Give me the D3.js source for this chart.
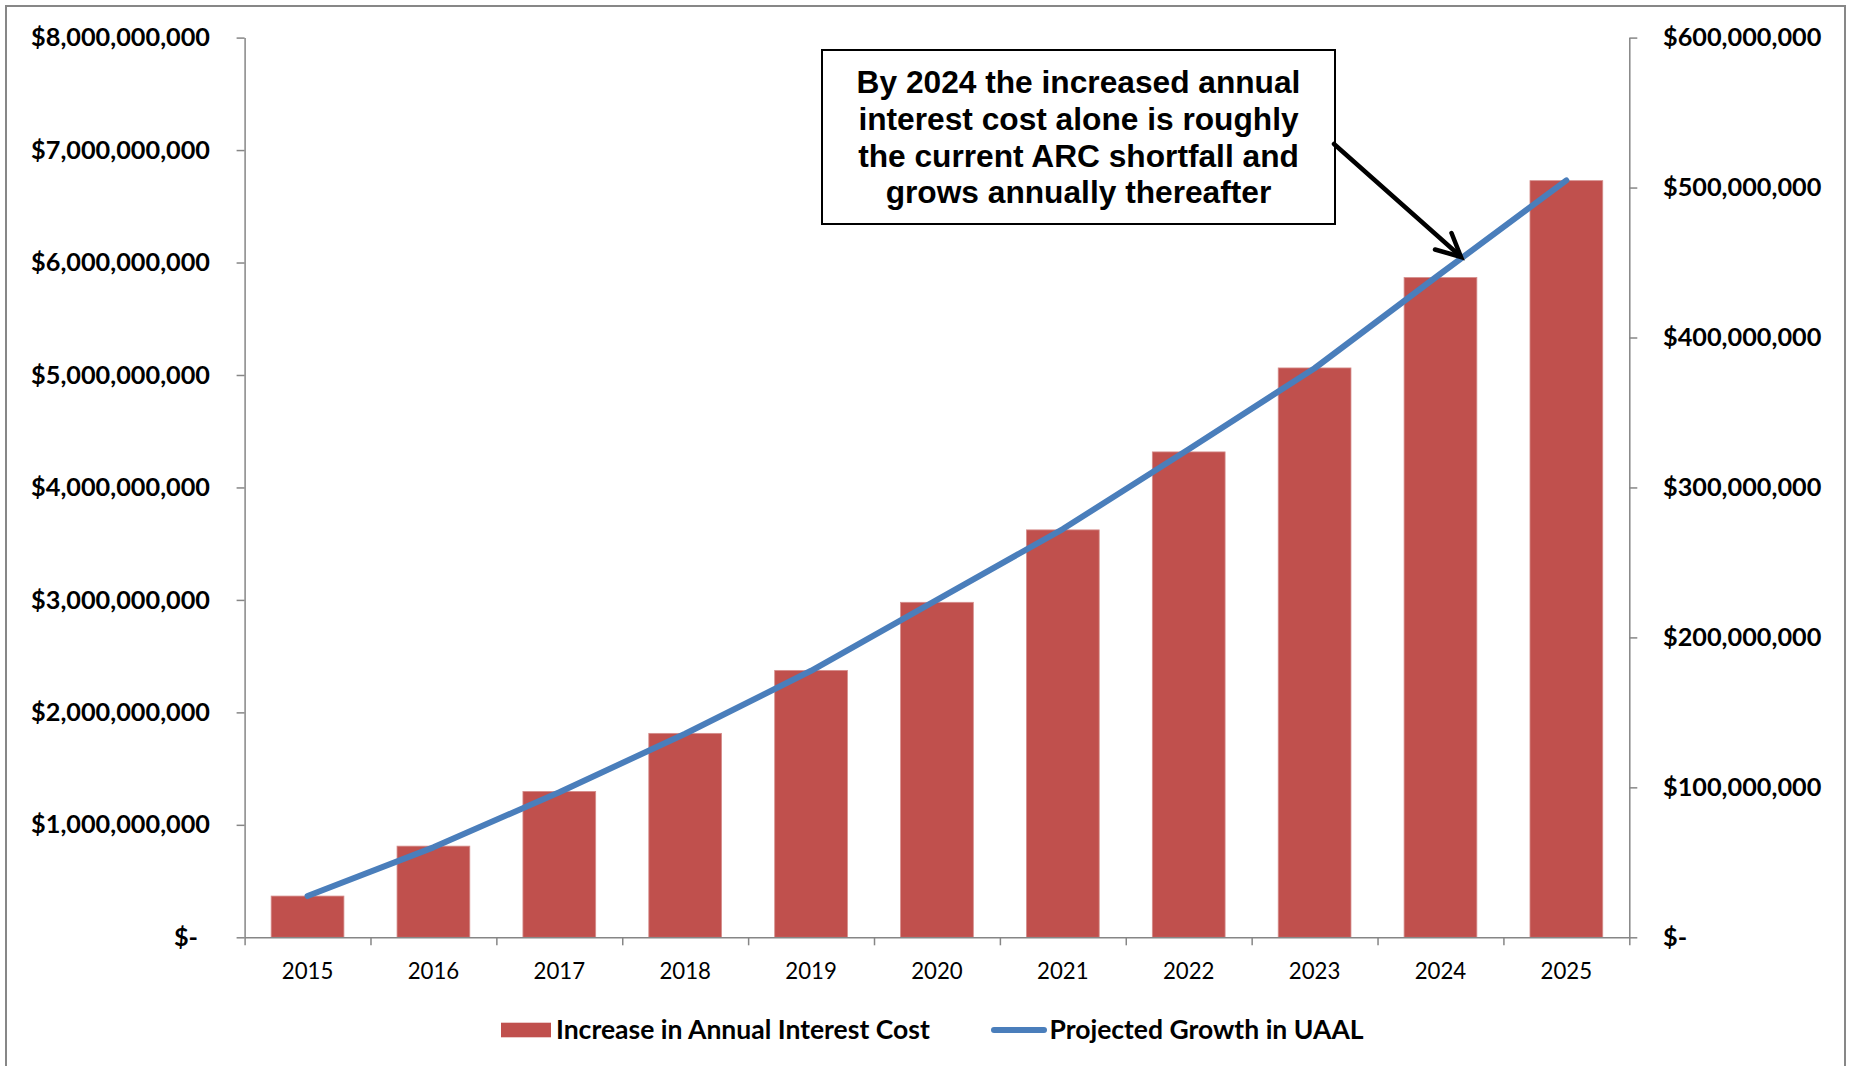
<!DOCTYPE html>
<html>
<head>
<meta charset="utf-8">
<script src="https://cdn.jsdelivr.net/npm/d3@7"></script>
<style>
  html, body { margin: 0; padding: 0; background: #ffffff; }
  svg { display: block; }
</style>
</head>
<body>
<script>
// ---------------- DATA ----------------
const years = ["2015", "2016", "2017", "2018", "2019", "2020", "2021", "2022", "2023", "2024", "2025"];
// Increase in Annual Interest Cost (right axis, $)
const interestCost = [27.5e6, 60.8e6, 97.3e6, 136.0e6, 178.0e6, 223.4e6, 271.7e6, 323.7e6, 379.7e6, 440.0e6, 504.6e6];
// Projected Growth in UAAL (left axis, $)
const uaalGrowth = [0.367e9, 0.80e9, 1.29e9, 1.81e9, 2.37e9, 3.00e9, 3.63e9, 4.34e9, 5.06e9, 5.90e9, 6.73e9];
const leftTicks = [0, 1e9, 2e9, 3e9, 4e9, 5e9, 6e9, 7e9, 8e9];
const rightTicks = [0, 100e6, 200e6, 300e6, 400e6, 500e6, 600e6];
const seriesNames = ["Increase in Annual Interest Cost", "Projected Growth in UAAL"];
const annotationLines = [
  "By 2024 the increased annual",
  "interest cost alone is roughly",
  "the current ARC shortfall and",
  "grows annually thereafter"
];

// ---------------- LAYOUT ----------------
const W = 1850, H = 1066;
const plotLeft = 244.6, plotRight = 1629.3, plotTop = 37.6, plotBottom = 937.3;
const barColor = "#C0504D", lineColor = "#4A7EBB", axisColor = "#868686";
const labelFont = "Lato, 'Open Sans', sans-serif";
const noteFont = "'Liberation Sans', Arial, sans-serif";

const svg = d3.select("body").append("svg").attr("width", W).attr("height", H);

function fitSize(str, family, weight, targetW) {
  const t = svg.append("text").attr("font-family", family).attr("font-weight", weight)
    .attr("font-size", 100).text(str);
  const w = t.node().getComputedTextLength();
  t.remove();
  return 100 * targetW / w;
}

const yTickSize = fitSize("$8,000,000,000", labelFont, "bold", 179);
const xTickSize = fitSize("2015", labelFont, "normal", 51.6);
const legendSize = fitSize(seriesNames[0], labelFont, "bold", 374);
const noteSize = fitSize(annotationLines[0], noteFont, "bold", 444);

// outer border
svg.append("rect").attr("x", 6).attr("y", 6).attr("width", 1839).attr("height", 1090)
  .attr("fill", "none").attr("stroke", "#878787").attr("stroke-width", 2);

// scales
const x = d3.scaleBand().domain(years).range([plotLeft, plotRight]).paddingInner(0).paddingOuter(0);
const xEdges = d3.scaleLinear().domain([0, years.length]).range([plotLeft, plotRight]);
const yLeft = d3.scaleLinear().domain([0, 8e9]).range([plotBottom, plotTop]);
const yRight = d3.scaleLinear().domain([0, 600e6]).range([plotBottom, plotTop]);

const fmt = d3.format("$,");
const moneyFmt = v => v === 0 ? "$-" : fmt(v);

// bars
const bw = x.bandwidth() * 0.578;
svg.append("g").selectAll("rect").data(years).join("rect")
  .attr("x", d => x(d) + (x.bandwidth() - bw) / 2)
  .attr("width", bw)
  .attr("y", (d, i) => yRight(interestCost[i]))
  .attr("height", (d, i) => plotBottom - yRight(interestCost[i]))
  .attr("fill", barColor)
  .attr("stroke", "#d58e8c").attr("stroke-width", 0.8);

// left axis
const gL = svg.append("g").attr("transform", `translate(${plotLeft},0)`)
  .call(d3.axisLeft(yLeft).tickValues(leftTicks).tickFormat(moneyFmt).tickSize(8).tickSizeOuter(0).tickPadding(26.6));
gL.selectAll("text").attr("font-family", labelFont).attr("font-weight", "bold")
  .attr("font-size", yTickSize).attr("fill", "#000");
gL.selectAll(".tick").filter(d => d === 0).select("text").attr("dx", -12);

// right axis
const gR = svg.append("g").attr("transform", `translate(${plotRight},0)`)
  .call(d3.axisRight(yRight).tickValues(rightTicks).tickFormat(moneyFmt).tickSize(8).tickSizeOuter(0).tickPadding(25.7));
gR.selectAll("text").attr("font-family", labelFont).attr("font-weight", "bold")
  .attr("font-size", yTickSize).attr("fill", "#000");

// bottom axis: boundary ticks
const gB = svg.append("g").attr("transform", `translate(0,${plotBottom})`)
  .call(d3.axisBottom(xEdges).tickValues(d3.range(years.length + 1)).tickFormat("").tickSize(8).tickSizeOuter(0));
// bottom axis: category labels
const gBL = svg.append("g").attr("transform", `translate(0,${plotBottom})`)
  .call(d3.axisBottom(x).tickSize(0).tickPadding(26));
gBL.select(".domain").remove();
gBL.selectAll("text").attr("font-family", labelFont).attr("font-size", xTickSize).attr("fill", "#000");

[gL, gR, gB].forEach(g => {
  g.selectAll("line").attr("stroke", axisColor).attr("stroke-width", 1.5);
  g.select(".domain").attr("stroke", axisColor).attr("stroke-width", 1.5);
});

// line
const line = d3.line()
  .x((d, i) => x(years[i]) + x.bandwidth() / 2)
  .y(d => yLeft(d));
svg.append("path").datum(uaalGrowth).attr("d", line)
  .attr("fill", "none").attr("stroke", lineColor).attr("stroke-width", 6)
  .attr("stroke-linecap", "round").attr("stroke-linejoin", "round");

// annotation box
const box = { x: 822, y: 50, w: 513, h: 174 };
svg.append("rect").attr("x", box.x).attr("y", box.y).attr("width", box.w).attr("height", box.h)
  .attr("fill", "#fff").attr("stroke", "#000").attr("stroke-width", 2);
svg.append("g").selectAll("text").data(annotationLines).join("text")
  .attr("x", box.x + box.w / 2)
  .attr("y", (d, i) => 92.7 + i * 36.9)
  .attr("text-anchor", "middle")
  .attr("font-family", noteFont).attr("font-weight", "bold").attr("font-size", noteSize)
  .attr("fill", "#000").text(d => d);

// arrow
const tip = [1461, 257];
svg.append("line").attr("x1", 1334).attr("y1", 144).attr("x2", tip[0] - 2).attr("y2", tip[1] - 2)
  .attr("stroke", "#000").attr("stroke-width", 4.5).attr("stroke-linecap", "round");
svg.append("path").attr("d", `M1435,249.5 L${tip[0]},${tip[1]} L1451.5,233`)
  .attr("fill", "none").attr("stroke", "#000").attr("stroke-width", 4.5)
  .attr("stroke-linecap", "round").attr("stroke-linejoin", "miter");

// legend
const legY = 1030;
svg.append("rect").attr("x", 501).attr("y", 1022.7).attr("width", 50).attr("height", 14.6).attr("fill", barColor);
svg.append("text").attr("x", 556).attr("y", 1039).attr("font-family", labelFont).attr("font-weight", "bold")
  .attr("font-size", legendSize).attr("fill", "#000").text(seriesNames[0]);
svg.append("line").attr("x1", 994).attr("x2", 1044).attr("y1", legY).attr("y2", legY)
  .attr("stroke", lineColor).attr("stroke-width", 6).attr("stroke-linecap", "round");
svg.append("text").attr("x", 1049.5).attr("y", 1039).attr("font-family", labelFont).attr("font-weight", "bold")
  .attr("font-size", legendSize).attr("fill", "#000").text(seriesNames[1]);
</script>
</body>
</html>
